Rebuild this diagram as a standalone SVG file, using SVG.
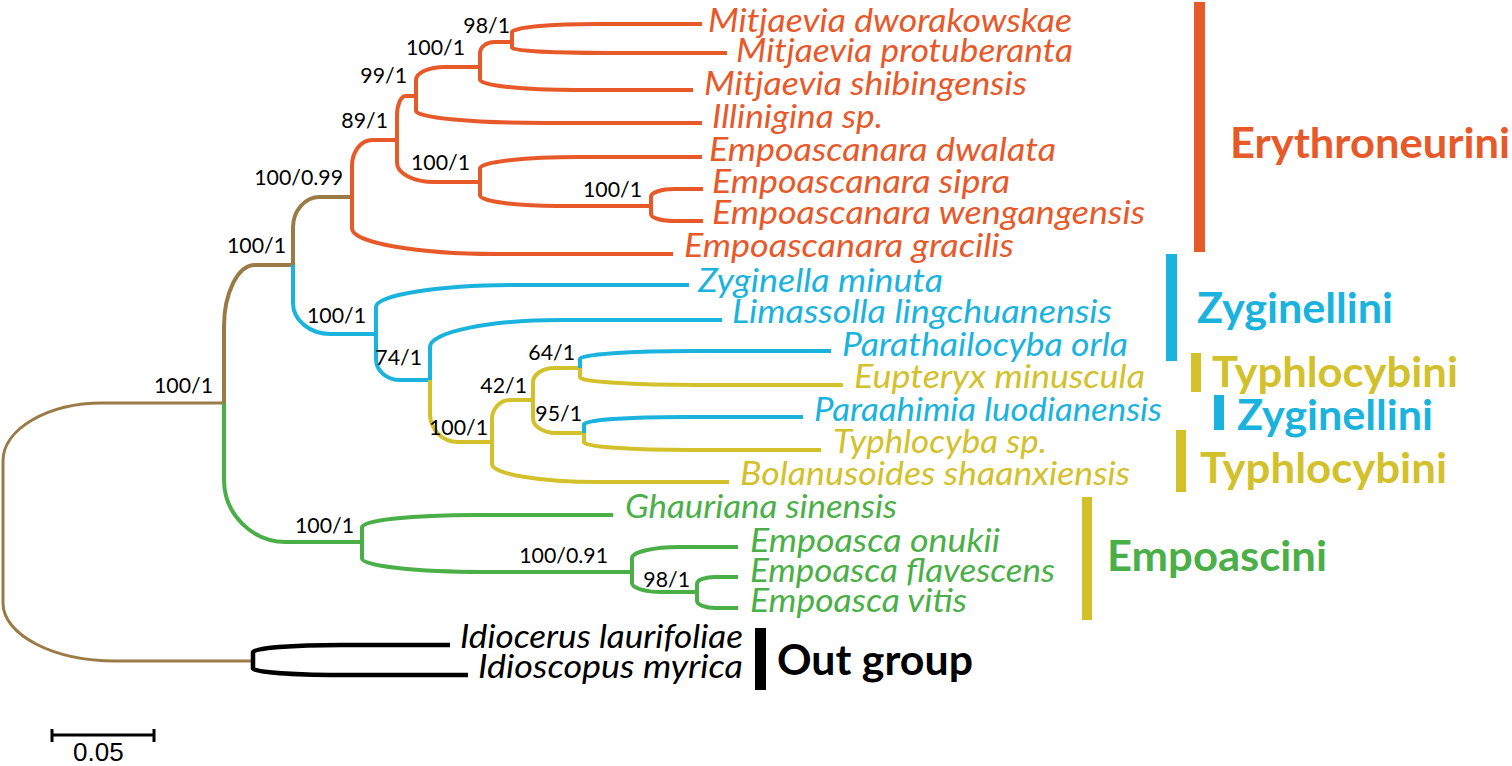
<svg xmlns="http://www.w3.org/2000/svg" width="1512" height="766" viewBox="0 0 1512 766">
<style>
.e{fill:none;stroke-width:4;stroke-linecap:butt;stroke-linejoin:round}
.thin{stroke-width:3}
.or{stroke:#E8592A}.bl{stroke:#1AB3DD}.ye{stroke:#D3C12B}.gr{stroke:#4BAF48}.br{stroke:#9B7B45}.bk{stroke:#000;stroke-width:4.5}
.sp{font-family:Lato,"Open Sans","DejaVu Sans",sans-serif;font-style:italic;font-size:32.4px}
.nl{font-family:Lato,"Open Sans","DejaVu Sans",sans-serif;font-size:21.3px;fill:#000;text-anchor:end}
.cl{font-family:Lato,"Open Sans","DejaVu Sans",sans-serif;font-weight:bold;font-size:41.4px}
.tor{fill:#E8592A}.tbl{fill:#1AB3DD}.tye{fill:#D3C12B}.tgr{fill:#4BAF48}.tbk{fill:#000}
</style>
<rect width="1512" height="766" fill="#fff"/>
<g id="connectors">
<path class="e br thin" d="M3,532 V461 C3,429 47.6,403 102.5,403 H224"/>
<path class="e br thin" d="M3,532 V603 C3,635 53.4,661 115.5,661 H253"/>
<path class="e br" d="M224,403 V327.1 C224,292.8 237.9,265 255,265 H293"/>
<path class="e gr" d="M224,403 V479.5 C224,514 251.8,542 286.1,542 H362"/>
<path class="e br" d="M293,265 V227.6 C293,210.7 304.9,197 319.6,197 H352"/>
<path class="e bl" d="M293,265 V303 C293,320.1 309.7,334 330.4,334 H376"/>
<path class="e or" d="M352,197 V165.7 C352,151.5 361.1,140 372.3,140 H397"/>
<path class="e or" d="M352,197 V228.4 C352,242.5 416.7,254 496.5,254 H673"/>
<path class="e or" d="M397,140 V115.8 C397,104.9 400.8,96 405.6,96 H416"/>
<path class="e or" d="M397,140 V163.1 C397,173.5 413.7,182 434.4,182 H480"/>
<path class="e or" d="M416,96 V80 C416,72.8 428.9,67 444.8,67 H480"/>
<path class="e or" d="M416,96 V110.9 C416,117.6 473.7,123 544.7,123 H702"/>
<path class="e or" d="M480,67 V53.3 C480,47 486.5,42 494.4,42 H512"/>
<path class="e or" d="M480,67 V79.7 C480,85.4 522.9,90 575.9,90 H693"/>
<path class="e or" d="M512,42 V32.1 C512,27.6 550.3,24 597.5,24 H702"/>
<path class="e or" d="M512,42 V48 C512,50.8 555.3,53 608.8,53 H727"/>
<path class="e or" d="M480,182 V168.3 C480,162 524.8,157 579.9,157 H702"/>
<path class="e or" d="M480,182 V195.2 C480,201.2 514.5,206 557,206 H651"/>
<path class="e or" d="M651,206 V196.7 C651,192.4 661.5,189 674.4,189 H703"/>
<path class="e or" d="M651,206 V214.3 C651,218 661.5,221 674.4,221 H703"/>
<path class="e bl" d="M376,334 V307 C376,294.9 439.1,285 516.9,285 H689"/>
<path class="e bl" d="M376,334 V359.3 C376,370.7 386.9,380 400.3,380 H430"/>
<path class="e bl" d="M430,380 V347 C430,332.1 488.9,320 561.4,320 H722"/>
<path class="e ye" d="M430,380 V414.1 C430,429.5 442.5,442 457.9,442 H492"/>
<path class="e ye" d="M492,442 V418.9 C492,408.5 500.3,400 510.5,400 H533"/>
<path class="e ye" d="M492,442 V464 C492,473.9 539.8,482 598.7,482 H729"/>
<path class="e ye" d="M533,400 V382.4 C533,374.5 542.5,368 554.2,368 H580"/>
<path class="e ye" d="M533,400 V418.2 C533,426.3 543.3,433 556,433 H584"/>
<path class="e bl" d="M580,368 V358.7 C580,354.4 630.6,351 693,351 H831"/>
<path class="e ye" d="M580,368 V377.4 C580,381.6 633,385 698.4,385 H843"/>
<path class="e bl" d="M584,433 V424.2 C584,420.2 628.2,417 682.6,417 H803"/>
<path class="e ye" d="M584,433 V442.4 C584,446.6 631.8,450 690.7,450 H821"/>
<path class="e gr" d="M362,542 V527.2 C362,520.4 412.6,515 475,515 H613"/>
<path class="e gr" d="M362,542 V558.5 C362,566 416.4,572 483.5,572 H632"/>
<path class="e gr" d="M632,572 V558.3 C632,552 653.4,547 679.7,547 H738"/>
<path class="e gr" d="M632,572 V583 C632,588 645.1,592 661.3,592 H697"/>
<path class="e gr" d="M697,592 V583.8 C697,580 705.3,577 715.5,577 H738"/>
<path class="e gr" d="M697,592 V600.8 C697,604.8 705.3,608 715.5,608 H738"/>
<path class="e bk" d="M253,661 V652.2 C253,648.2 292.7,645 341.7,645 H450"/>
<path class="e bk" d="M253,661 V668.7 C253,672.2 296.3,675 349.8,675 H468"/>
</g>
<g id="support-labels">
<g id="n-H"><text class="nl" x="510" y="33">98/1</text></g>
<g id="n-G"><text class="nl" x="465" y="55">100/1</text></g>
<g id="n-F"><text class="nl" x="407" y="83">99/1</text></g>
<g id="n-E"><text class="nl" x="388" y="128">89/1</text></g>
<g id="n-I"><text class="nl" x="470" y="170">100/1</text></g>
<g id="n-J"><text class="nl" x="642" y="197">100/1</text></g>
<g id="n-D"><text class="nl" x="343" y="185">100/0.99</text></g>
<g id="n-C"><text class="nl" x="286" y="253">100/1</text></g>
<g id="n-B"><text class="nl" x="213" y="393">100/1</text></g>
<g id="n-K"><text class="nl" x="366" y="323">100/1</text></g>
<g id="n-L"><text class="nl" x="422" y="365">74/1</text></g>
<g id="n-O"><text class="nl" x="575" y="360">64/1</text></g>
<g id="n-N"><text class="nl" x="527" y="393">42/1</text></g>
<g id="n-P"><text class="nl" x="582" y="421">95/1</text></g>
<g id="n-M"><text class="nl" x="488" y="435">100/1</text></g>
<g id="n-Q"><text class="nl" x="354" y="533">100/1</text></g>
<g id="n-R"><text class="nl" x="608" y="563">100/0.91</text></g>
<g id="n-S"><text class="nl" x="690" y="587">98/1</text></g>
</g>
<g id="taxa">
<g id="t1"><text class="sp tor" x="708" y="32" textLength="364" lengthAdjust="spacingAndGlyphs">Mitjaevia dworakowskae</text></g>
<g id="t2"><text class="sp tor" x="736" y="62" textLength="337" lengthAdjust="spacingAndGlyphs">Mitjaevia protuberanta</text></g>
<g id="t3"><text class="sp tor" x="704" y="95" textLength="323" lengthAdjust="spacingAndGlyphs">Mitjaevia shibingensis</text></g>
<g id="t4"><text class="sp tor" x="712" y="128" textLength="171" lengthAdjust="spacingAndGlyphs">Illinigina sp.</text></g>
<g id="t5"><text class="sp tor" x="709" y="161" textLength="347" lengthAdjust="spacingAndGlyphs">Empoascanara dwalata</text></g>
<g id="t6"><text class="sp tor" x="712" y="193" textLength="298" lengthAdjust="spacingAndGlyphs">Empoascanara sipra</text></g>
<g id="t7"><text class="sp tor" x="712" y="224" textLength="433" lengthAdjust="spacingAndGlyphs">Empoascanara wengangensis</text></g>
<g id="t8"><text class="sp tor" x="684" y="257" textLength="330" lengthAdjust="spacingAndGlyphs">Empoascanara gracilis</text></g>
<g id="t9"><text class="sp tbl" x="698" y="292" textLength="245" lengthAdjust="spacingAndGlyphs">Zyginella minuta</text></g>
<g id="t10"><text class="sp tbl" x="732" y="323" textLength="380" lengthAdjust="spacingAndGlyphs">Limassolla lingchuanensis</text></g>
<g id="t11"><text class="sp tbl" x="842" y="356" textLength="286" lengthAdjust="spacingAndGlyphs">Parathailocyba orla</text></g>
<g id="t12"><text class="sp tye" x="854" y="388" textLength="291" lengthAdjust="spacingAndGlyphs">Eupteryx minuscula</text></g>
<g id="t13"><text class="sp tbl" x="814" y="421" textLength="348" lengthAdjust="spacingAndGlyphs">Paraahimia luodianensis</text></g>
<g id="t14"><text class="sp tye" x="833" y="453" textLength="214" lengthAdjust="spacingAndGlyphs">Typhlocyba sp.</text></g>
<g id="t15"><text class="sp tye" x="740" y="485" textLength="390" lengthAdjust="spacingAndGlyphs">Bolanusoides shaanxiensis</text></g>
<g id="t16"><text class="sp tgr" x="625" y="518" textLength="272" lengthAdjust="spacingAndGlyphs">Ghauriana sinensis</text></g>
<g id="t17"><text class="sp tgr" x="750" y="552" textLength="250" lengthAdjust="spacingAndGlyphs">Empoasca onukii</text></g>
<g id="t18"><text class="sp tgr" x="750" y="582" textLength="305" lengthAdjust="spacingAndGlyphs">Empoasca flavescens</text></g>
<g id="t19"><text class="sp tgr" x="750" y="612" textLength="217" lengthAdjust="spacingAndGlyphs">Empoasca vitis</text></g>
<g id="t20"><text class="sp tbk" x="460" y="648" textLength="283" lengthAdjust="spacingAndGlyphs">Idiocerus laurifoliae</text></g>
<g id="t21"><text class="sp tbk" x="478" y="678" textLength="265" lengthAdjust="spacingAndGlyphs">Idioscopus myrica</text></g>
</g>
<g id="clades">
<g id="c-erythroneurini"><rect x="1194" y="2" width="11" height="250" class="tor"/><text class="cl tor" x="1230" y="158" textLength="280" lengthAdjust="spacingAndGlyphs">Erythroneurini</text></g>
<g id="c-zyginellini1"><rect x="1166" y="254" width="11" height="107" class="tbl"/><text class="cl tbl" x="1197" y="323" textLength="196" lengthAdjust="spacingAndGlyphs">Zyginellini</text></g>
<g id="c-typhlocybini1"><rect x="1191" y="353" width="10" height="39" class="tye"/><text class="cl tye" x="1212" y="387" textLength="246" lengthAdjust="spacingAndGlyphs">Typhlocybini</text></g>
<g id="c-zyginellini2"><rect x="1214" y="395" width="10" height="35" class="tbl"/><text class="cl tbl" x="1237" y="430" textLength="196" lengthAdjust="spacingAndGlyphs">Zyginellini</text></g>
<g id="c-typhlocybini2"><rect x="1176" y="430" width="10" height="62" class="tye"/><text class="cl tye" x="1200" y="483" textLength="247" lengthAdjust="spacingAndGlyphs">Typhlocybini</text></g>
<g id="c-empoascini"><rect x="1082" y="497" width="10" height="123" class="tye"/><text class="cl tgr" x="1107" y="571" textLength="220" lengthAdjust="spacingAndGlyphs">Empoascini</text></g>
<g id="c-outgroup"><rect x="755" y="628" width="11" height="62" class="tbk"/><text class="cl tbk" x="777" y="675" textLength="196" lengthAdjust="spacingAndGlyphs">Out group</text></g>
</g>
<g id="scale-bar">
<path d="M52,735 H154 M52,729 V742 M154,729 V742" fill="none" stroke="#000" stroke-width="3"/>
<text x="73" y="761" font-family="'Liberation Sans',Arial,sans-serif" font-size="26" fill="#000">0.05</text>
</g>
</svg>
